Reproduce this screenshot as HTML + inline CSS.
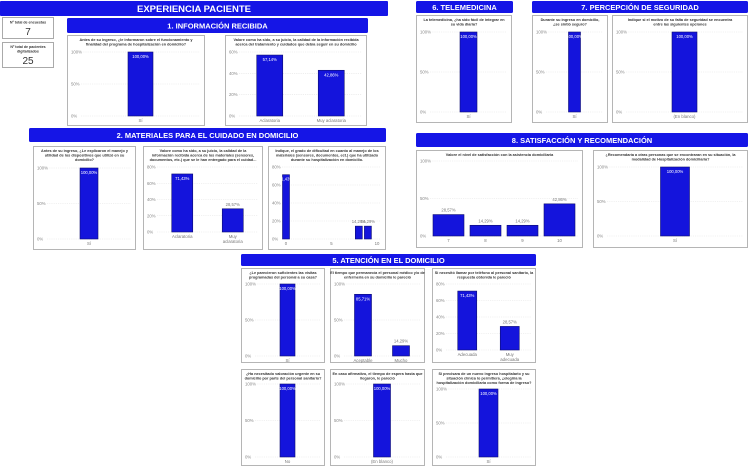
<!DOCTYPE html>
<html><head><meta charset="utf-8">
<style>
html,body{margin:0;padding:0;background:#fff;}
body{width:750px;height:469px;overflow:hidden;position:relative;font-family:"Liberation Sans",sans-serif;}
svg{position:absolute;left:0;top:0;}
</style></head>
<body>
<svg id="dash" width="750" height="469" viewBox="0 0 750 469" xmlns="http://www.w3.org/2000/svg">
  <g>
    <rect x="0" y="1" width="388" height="15" rx="1" fill="#1515e6"/>
    <text x="194" y="12" text-anchor="middle" font-size="9.5" font-weight="bold" fill="#fff">EXPERIENCIA PACIENTE</text>
  </g>
  <g>
    <rect x="2.5" y="17.5" width="51" height="21" fill="#fff" stroke="#aaa"/>
    <text x="28" y="23.5" text-anchor="middle" font-size="3.6" font-weight="bold" fill="#333">Nº total de encuestas</text>
    <text x="28" y="35" text-anchor="middle" font-size="10" fill="#333">7</text>
  </g>
  <g>
    <rect x="2.5" y="42.5" width="51" height="25" fill="#fff" stroke="#aaa"/>
    <text x="28" y="48" text-anchor="middle" font-size="3.6" font-weight="bold" fill="#333">Nº total de pacientes</text>
    <text x="28" y="52.5" text-anchor="middle" font-size="3.6" font-weight="bold" fill="#333">digitalizados</text>
    <text x="28" y="64" text-anchor="middle" font-size="10" fill="#333">25</text>
  </g>
  <g id="charts"></g>
</svg>
<script>
// ---- data ----
const c1aCats=["Sí"];const c1aVals=[100];const c1aTicks=[0,50,100];
const c1bCats=["Aclaratoria","Muy aclaratoria"];const c1bVals=[57.14,42.86];const c1bTicks=[0,20,40,60];
const c2aCats=["Sí"];const c2aVals=[100];const c2aTicks=[0,50,100];
const c2bCats=["Aclaratoria","Muy|aclaratoria"];const c2bVals=[71.43,28.57];const c2bTicks=[0,20,40,60,80];
const c2cXs=[0,8,9];const c2cVals=[71.43,14.29,14.29];const c2cXTicks=[0,5,10];const c2cTicks=[0,20,40,60,80];
const c6Cats=["Sí"];const c6Vals=[100];const c6Ticks=[0,50,100];
const c7aCats=["Sí"];const c7aVals=[100];const c7aTicks=[0,50,100];
const c7bCats=["(En blanco)"];const c7bVals=[100];const c7bTicks=[0,50,100];
const c8aCats=["7","8","9","10"];const c8aVals=[28.57,14.29,14.29,42.86];const c8aTicks=[0,50,100];
const c8bCats=["Sí"];const c8bVals=[100];const c8bTicks=[0,50,100];
const c5aCats=["Sí"];const c5aVals=[100];const c5aTicks=[0,50,100];
const c5bCats=["Aceptable","Mucho"];const c5bVals=[85.71,14.29];const c5bTicks=[0,50,100];
const c5cCats=["Adecuada","Muy|adecuada"];const c5cVals=[71.43,28.57];const c5cTicks=[0,20,40,60,80];
const c5dCats=["No"];const c5dVals=[100];const c5dTicks=[0,50,100];
const c5eCats=["(En blanco)"];const c5eVals=[100];const c5eTicks=[0,50,100];
const c5fCats=["Sí"];const c5fVals=[100];const c5fTicks=[0,50,100];

const NS="http://www.w3.org/2000/svg";
const root=document.getElementById('charts');
function mk(tag,attrs,parent){const e=document.createElementNS(NS,tag);for(const k in attrs)e.setAttribute(k,attrs[k]);(parent||root).appendChild(e);return e;}
function txt(s,attrs,parent){const t=mk('text',attrs,parent);t.textContent=s;return t;}
function fmt(v){return v.toFixed(2).replace('.',',')+'%';}

function header(x,y,w,h,label,name){
  const g=mk('g',{});
  
  
  mk('rect',{x:x,y:y,width:w,height:h,rx:1.5,fill:'#1515e6'},g);
  txt(label,{x:x+w/2,y:y+h/2+3,'text-anchor':'middle','font-size':7.5,'font-weight':'bold',fill:'#fff'},g);
}
header(67,18,301,15,'1. INFORMACIÓN RECIBIDA','section-1-header');
header(29,128,357,14,'2. MATERIALES PARA EL CUIDADO EN DOMICILIO','section-2-header');
header(416,1,97,12,'6. TELEMEDICINA','section-6-header');
header(532,1,216,12,'7. PERCEPCIÓN DE SEGURIDAD','section-7-header');
header(416,133,332,14,'8. SATISFACCIÓN Y RECOMENDACIÓN','section-8-header');
header(241,254,295,12,'5. ATENCIÓN EN EL DOMICILIO','section-5-header');

function chart(name,p,title,cats,vals,ticks,xs,xticks){
  const g=mk('g',{});
  
  
  mk('rect',{x:p.x+0.5,y:p.y+0.5,width:p.w-1,height:p.h-1,fill:'#fff',stroke:'#b5b5b5','stroke-width':1},g);
  title.forEach((l,i)=>txt(l,{x:p.x+p.w/2,y:p.y+6+i*4.4,'text-anchor':'middle','font-size':3.8,'font-weight':'bold',fill:'#333'},g));
  const yMax=ticks[ticks.length-1];
  const y=v=>p.y0-(v/yMax)*(p.y0-p.yTop);
  const pl=p.x+p.pl, pr=p.x+p.w-5;
  ticks.forEach(t=>{
    const ty=y(t);
    mk('line',{x1:pl,x2:pr,y1:ty,y2:ty,stroke:'#e3e3e3','stroke-width':0.6,'stroke-dasharray':'1.2,1'},g);
    const tl=txt(t+'%',{x:p.x+4,y:ty+1.5,'font-size':4.3,fill:'#888'},g);
    
    
  });
  let xpos,bw;
  if(xs){
    const xmin=xticks[0],xmax=xticks[xticks.length-1];
    const xa=pl+p.padL, xb=pr-p.padR;
    const xf=v=>xa+(v-xmin)/(xmax-xmin)*(xb-xa);
    xpos=xs.map(xf);bw=p.bw;
    xticks.forEach(t=>txt(String(t),{x:xf(t),y:p.y0+6,'text-anchor':'middle','font-size':4.3,fill:'#777'},g));
  } else {
    const band=(pr-pl)/cats.length;
    xpos=cats.map((c,i)=>pl+band*(i+0.5));bw=p.bw||band*p.frac;
    cats.forEach((c,i)=>c.split('|').forEach((ln,j)=>{
      const cl=txt(ln,{x:xpos[i],y:p.y0+6+j*5,'text-anchor':'middle','font-size':4.3,fill:'#777'},g);
      
      
    }));
  }
  vals.forEach((v,i)=>{
    const top=y(v);
    const b=mk('rect',{x:xpos[i]-bw/2,y:top,width:bw,height:p.y0-top,fill:'#1414dc',stroke:'#0c0c70','stroke-width':0.6},g);
    
    
    const inside=(p.y0-top)>(p.y0-p.yTop)*0.6;
    const dl=txt(fmt(v),{x:xpos[i],y:inside?top+6:top-3,'text-anchor':'middle','font-size':4.2,fill:inside?'#fff':'#777'},g);
    
    
  });
}

chart('chart-info-program',{x:67,y:35,w:138,h:91,yTop:52,y0:116,pl:14,frac:0.21},["Antes de su ingreso, ¿le informaron sobre el funcionamiento y","finalidad del programa de hospitalización en domicilio?"],c1aCats,c1aVals,c1aTicks);
chart('chart-info-quality',{x:225,y:35,w:142,h:91,yTop:52,y0:116,pl:14,bw:26},["Valore como ha sido, a su juicio, la calidad de la información recibida","acerca del tratamiento y cuidados que debía seguir en su domicilio"],c1bCats,c1bVals,c1bTicks);
chart('chart-devices-explained',{x:33,y:146,w:103,h:104,yTop:168,y0:239,pl:14,bw:18},["Antes de su ingreso, ¿Le explicaron el manejo y","utilidad de los dispositivos que utilizó en su","domicilio?"],c2aCats,c2aVals,c2aTicks);
chart('chart-materials-quality',{x:143,y:146,w:120,h:104,yTop:167,y0:232,pl:14,bw:21},["Valore como ha sido, a su juicio, la calidad de la","información recibida acerca de los materiales (sensores,","documentos, etc.) que se le han entregado para el cuidad..."],c2bCats,c2bVals,c2bTicks);
chart('chart-materials-difficulty',{x:268,y:146,w:118,h:104,yTop:167,y0:239,pl:14,padL:4,padR:4,bw:7},["Indique, el grado de dificultad en cuanto al manejo de los","materiales (sensores, documentos, ect.) que ha utilizado","durante su hospitalización en domicilio."],null,c2cVals,c2cTicks,c2cXs,c2cXTicks);
chart('chart-telemedicine',{x:416,y:15,w:96,h:108,yTop:32,y0:112,pl:14,bw:17},["La telemedicina, ¿ha sido fácil de integrar en","su vida diaria?"],c6Cats,c6Vals,c6Ticks);
chart('chart-felt-safe',{x:532,y:15,w:76,h:108,yTop:32,y0:112,pl:14,bw:12},["Durante su ingreso en domicilio,","¿se sintió seguro?"],c7aCats,c7aVals,c7aTicks);
chart('chart-insecurity-reason',{x:612,y:15,w:136,h:108,yTop:32,y0:112,pl:14,bw:25},["Indique si el motivo de su falta de seguridad se encuentra","entre las siguientes opciones"],c7bCats,c7bVals,c7bTicks);
chart('chart-satisfaction-level',{x:416,y:150,w:167,h:98,yTop:161,y0:236,pl:14,bw:31},["Valore el nivel de satisfacción con la asistencia domiciliaria"],c8aCats,c8aVals,c8aTicks);
chart('chart-recommendation',{x:593,y:150,w:155,h:98,yTop:167,y0:236,pl:14,bw:29},["¿Recomendaría a otras personas que se encontraran en su situación, la","modalidad de Hospitalización domiciliaria?"],c8bCats,c8bVals,c8bTicks);
chart('chart-visits-sufficient',{x:241,y:268,w:84,h:95,yTop:284,y0:356,pl:14,bw:15},["¿Le parecieron suficientes las visitas","programadas del personal a su casa?"],c5aCats,c5aVals,c5aTicks);
chart('chart-visit-duration',{x:330,y:268,w:95,h:95,yTop:284,y0:356,pl:14,bw:17},["El tiempo que permanecía el personal médico y/o de","enfermería en su domicilio le pareció"],c5bCats,c5bVals,c5bTicks);
chart('chart-phone-response',{x:432,y:268,w:104,h:95,yTop:284,y0:350,pl:14,bw:19},["Si necesitó llamar por teléfono al personal sanitario, la","respuesta obtenida le pareció"],c5cCats,c5cVals,c5cTicks);
chart('chart-urgent-assessment',{x:241,y:369,w:84,h:97,yTop:384,y0:457,pl:14,bw:15},["¿Ha necesitado valoración urgente en su","domicilio por parte del personal sanitario?"],c5dCats,c5dVals,c5dTicks);
chart('chart-wait-time',{x:330,y:369,w:95,h:97,yTop:384,y0:457,pl:14,bw:17},["En caso afirmativo, el tiempo de espera hasta que","llegaron, le pareció"],c5eCats,c5eVals,c5eTicks);
chart('chart-choose-again',{x:432,y:369,w:104,h:97,yTop:389,y0:457,pl:14,bw:19},["Si precisara de un nuevo ingreso hospitalario y su","situación clínica lo permitiera, ¿elegiría la","hospitalización domiciliaria como forma de ingreso?"],c5fCats,c5fVals,c5fTicks);
</script>
</body></html>
